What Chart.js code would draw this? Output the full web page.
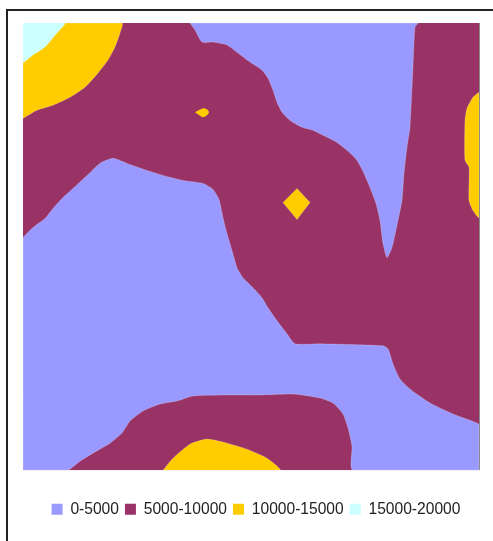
<!DOCTYPE html>
<html><head><meta charset="utf-8">
<script src="https://cdn.jsdelivr.net/npm/chart.js@4"></script>
<style>
html,body{margin:0;padding:0;background:#fff;overflow:hidden;}
#wrap{position:relative;width:493px;height:541px;}
#frame{position:absolute;left:6px;top:9px;width:540px;height:580px;border:2px solid #222;box-sizing:border-box;}
canvas{position:absolute;left:0;top:0;}
</style></head><body>
<div id="wrap"><div id="frame"></div><canvas id="c" width="493" height="541"></canvas></div>
<script>
// Legend categories and colours
const categories = ['0-5000', '5000-10000', '10000-15000', '15000-20000'];
const colors = ['#9999FF', '#993366', '#FFCC00', '#CCFFFF'];

// Grid extent (x: 0..456, y: 0..446, y measured downward from top)
const gridX = [0, 456];
const gridY = [0, 446];

// Contour band boundaries: [x, y]
const band5to10Full = [[0,0],[456,0],[456,446],[0,446]];

const band0to5Top = [[167,0],[172,7],[179,19],[190,19],[204,22],[215,30],[227,39],[239,47],
  [245,55],[250,67],[254,79],[259,89],[267,97],[279,104],[290,107],[300,112],[312,118],
  [324,127],[334,137],[341,150],[347,164],[353,180],[357,197],[360,220],[364,234],
  [369,224],[375,197],[379,177],[381,150],[384,124],[387,104],[390,44],[392,4],[395,0]];

const band0to5Mid = [[0,214],[10,204],[22,195],[30,185],[40,174],[50,165],[64,152],[77,140],
  [90,135],[104,140],[124,147],[140,152],[160,157],[180,160],[190,166],[196,176],[200,194],
  [204,210],[209,227],[214,244],[220,254],[230,264],[239,274],[245,284],[254,297],[264,310],
  [272,320],[297,320],[360,322],[365,325],[370,340],[377,355],[387,365],[407,379],[430,390],
  [454,399],[456,401],[456,446],[330,446],[329,422],[325,404],[320,390],[310,379],[297,374],
  [270,370],[237,371],[204,371],[170,372],[154,377],[137,380],[120,387],[107,397],[99,409],
  [87,419],[70,429],[57,437],[47,445],[44,446],[0,446]];

const band10to15TopLeft = [[0,0],[99,0],[97,10],[92,24],[85,37],[75,50],[62,64],[47,74],
  [30,82],[14,87],[2,94],[0,95]];
const band10to15Dot = [[172,89],[180,85],[184,86],[186,89],[184,92],[180,94]];
const band10to15Diamond = [[260,179],[274,165],[287,179],[274,196]];
const band10to15Right = [[456,69],[450,74],[444,85],[442,97],[442,137],[446,144],[446,177],
  [450,187],[456,194]];
const band10to15Bottom = [[140,446],[150,434],[167,420],[184,415],[204,419],[224,425],
  [244,434],[257,446]];

const band15to20TopLeft = [[0,0],[42,0],[34,10],[22,24],[10,32],[0,39]];

function poly(points, ci, order, tension, edge) {
  const pts = points.map(p => ({x: p[0], y: p[1]}));
  pts.push({x: points[0][0], y: points[0][1]});
  return {
    data: pts, showLine: true, fill: 'shape', backgroundColor: colors[ci],
    borderColor: edge ? 'rgba(255,255,255,0.22)' : colors[ci], borderWidth: edge ? 1 : 0,
    pointRadius: 0, pointHoverRadius: 0, clip: 0,
    tension: tension, order: order
  };
}

const datasets = [
  poly(band5to10Full, 1, 5, 0, false),
  poly(band0to5Top, 0, 4, 0.2, true),
  poly(band0to5Mid, 0, 4, 0.2, true),
  poly(band10to15TopLeft, 2, 3, 0.2, true),
  poly(band10to15Dot, 2, 3, 0.2, false),
  poly(band10to15Diamond, 2, 3, 0, true),
  poly(band10to15Right, 2, 3, 0.2, true),
  poly(band10to15Bottom, 2, 3, 0.2, true),
  poly(band15to20TopLeft, 3, 2, 0.2, true)
];

const rightEdge = {
  id: 'rightEdge',
  afterDatasetsDraw(chart) {
    const {ctx, chartArea: a} = chart;
    ctx.save();
    ctx.strokeStyle = '#8a8a8a';
    ctx.lineWidth = 1;
    ctx.beginPath();
    ctx.moveTo(a.right + 0.5, a.top);
    ctx.lineTo(a.right + 0.5, a.bottom);
    ctx.stroke();
    ctx.restore();
  }
};

const legendShift = {
  id: 'legendShift',
  afterLayout(chart) {
    if (chart.legend) { chart.legend.left += 5; chart.legend.right += 5; }
  }
};

new Chart(document.getElementById('c'), {
  type: 'scatter',
  data: {datasets},
  plugins: [rightEdge, legendShift],
  options: {
    responsive: false, animation: false, devicePixelRatio: 1,
    layout: {padding: {left: 23, top: 23, right: 14, bottom: 14}},
    scales: {
      x: {type: 'linear', min: gridX[0], max: gridX[1], display: false},
      y: {type: 'linear', min: gridY[0], max: gridY[1], reverse: true, display: false}
    },
    plugins: {
      tooltip: {enabled: false},
      legend: {
        position: 'bottom',
        onClick: null,
        title: {display: true, text: '', font: {size: 1}, padding: {top: 24, bottom: 0}},
        labels: {
          font: {family: 'Liberation Sans', size: 15.6},
          color: '#222',
          boxWidth: 11, boxHeight: 11, padding: 6,
          generateLabels: () => categories.map((t, i) => ({
            text: t, fillStyle: colors[i], strokeStyle: colors[i], lineWidth: 0,
            hidden: false, fontColor: '#222', datasetIndex: i
          }))
        }
      }
    }
  }
});
</script>
</body></html>
